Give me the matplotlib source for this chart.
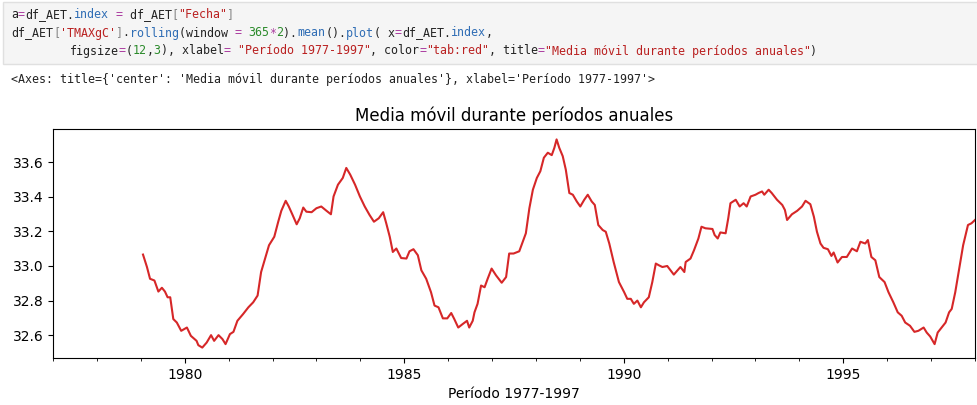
import matplotlib
matplotlib.use("Agg")
import matplotlib.pyplot as plt
from matplotlib.ticker import MultipleLocator, FuncFormatter
from matplotlib.patches import Rectangle

# ---- data ----
years = [1979.05, 1979.14, 1979.21, 1979.31, 1979.40, 1979.48, 1979.55, 1979.61, 1979.67, 1979.74,
         1979.82, 1979.92, 1980.05, 1980.14, 1980.27, 1980.31, 1980.40, 1980.50, 1980.60, 1980.67,
         1980.77, 1980.86, 1980.93, 1981.03, 1981.11, 1981.20, 1981.33, 1981.45, 1981.56, 1981.66,
         1981.74, 1981.83, 1981.92, 1982.04, 1982.13, 1982.20, 1982.30, 1982.37, 1982.45, 1982.55,
         1982.62, 1982.70, 1982.77, 1982.89, 1983.00, 1983.11, 1983.23, 1983.33, 1983.39, 1983.49,
         1983.60, 1983.68, 1983.77, 1983.88, 1983.99, 1984.10, 1984.21, 1984.31, 1984.42, 1984.52,
         1984.59, 1984.67, 1984.74, 1984.82, 1984.93, 1985.05, 1985.12, 1985.21, 1985.31, 1985.39,
         1985.50, 1985.61, 1985.69, 1985.78, 1985.88, 1985.98, 1986.07, 1986.14, 1986.23, 1986.33,
         1986.43, 1986.48, 1986.56, 1986.60, 1986.67, 1986.75, 1986.83, 1986.90, 1986.99, 1987.09,
         1987.22, 1987.32, 1987.39, 1987.49, 1987.62, 1987.70, 1987.77, 1987.85, 1987.93, 1988.02,
         1988.10, 1988.18, 1988.27, 1988.36, 1988.42, 1988.47, 1988.53, 1988.61, 1988.68, 1988.76,
         1988.84, 1988.93, 1989.01, 1989.10, 1989.18, 1989.27, 1989.34, 1989.42, 1989.52, 1989.59,
         1989.67, 1989.77, 1989.89, 1990.01, 1990.08, 1990.16, 1990.23, 1990.31, 1990.39, 1990.46,
         1990.57, 1990.65, 1990.73, 1990.80, 1990.88, 1990.99, 1991.14, 1991.29, 1991.38, 1991.41,
         1991.52, 1991.60, 1991.70, 1991.77, 1991.86, 1992.02, 1992.07, 1992.14, 1992.20, 1992.32,
         1992.38, 1992.43, 1992.55, 1992.64, 1992.73, 1992.80, 1992.89, 1993.00, 1993.07, 1993.15,
         1993.20, 1993.30, 1993.37, 1993.49, 1993.61, 1993.67, 1993.72, 1993.83, 1993.95, 1994.06,
         1994.14, 1994.25, 1994.33, 1994.40, 1994.48, 1994.55, 1994.65, 1994.73, 1994.78, 1994.87,
         1994.97, 1995.08, 1995.20, 1995.31, 1995.39, 1995.50, 1995.56, 1995.64, 1995.73, 1995.82,
         1995.94, 1996.03, 1996.14, 1996.24, 1996.33, 1996.41, 1996.52, 1996.62, 1996.71, 1996.83,
         1996.90, 1996.98, 1997.08, 1997.15, 1997.24, 1997.33, 1997.41, 1997.47, 1997.55, 1997.64,
         1997.73, 1997.84, 1997.92, 1998.00]
tmax_rolling = [33.066, 32.994, 32.926, 32.916, 32.852, 32.874, 32.852, 32.819, 32.819, 32.693,
                32.673, 32.625, 32.644, 32.596, 32.567, 32.542, 32.528, 32.557, 32.600, 32.567,
                32.600, 32.577, 32.548, 32.606, 32.619, 32.683, 32.722, 32.761, 32.790, 32.829,
                32.965, 33.043, 33.120, 33.169, 33.256, 33.319, 33.377, 33.344, 33.299, 33.241,
                33.276, 33.338, 33.314, 33.311, 33.334, 33.344, 33.319, 33.299, 33.402, 33.470,
                33.509, 33.567, 33.528, 33.470, 33.402, 33.344, 33.295, 33.256, 33.276, 33.311,
                33.247, 33.169, 33.081, 33.101, 33.046, 33.043, 33.085, 33.097, 33.062, 32.975,
                32.926, 32.848, 32.771, 32.761, 32.697, 32.697, 32.728, 32.693, 32.644, 32.664,
                32.683, 32.644, 32.683, 32.732, 32.781, 32.887, 32.877, 32.926, 32.985, 32.946,
                32.903, 32.936, 33.072, 33.072, 33.085, 33.140, 33.189, 33.334, 33.441, 33.509,
                33.548, 33.626, 33.655, 33.641, 33.684, 33.732, 33.684, 33.635, 33.557, 33.422,
                33.412, 33.373, 33.344, 33.383, 33.412, 33.373, 33.353, 33.237, 33.208, 33.198,
                33.130, 33.023, 32.907, 32.848, 32.810, 32.810, 32.781, 32.800, 32.761, 32.790,
                32.819, 32.907, 33.014, 33.004, 32.994, 33.000, 32.950, 32.994, 32.965, 33.023,
                33.043, 33.091, 33.159, 33.227, 33.218, 33.214, 33.179, 33.159, 33.194, 33.189,
                33.276, 33.363, 33.383, 33.344, 33.363, 33.344, 33.402, 33.412, 33.422, 33.431,
                33.412, 33.441, 33.422, 33.383, 33.353, 33.324, 33.266, 33.299, 33.319, 33.344,
                33.377, 33.357, 33.285, 33.198, 33.130, 33.105, 33.097, 33.058, 33.078, 33.020,
                33.052, 33.052, 33.101, 33.085, 33.140, 33.130, 33.150, 33.052, 33.033, 32.936,
                32.907, 32.848, 32.790, 32.732, 32.712, 32.673, 32.654, 32.619, 32.625, 32.644,
                32.615, 32.592, 32.548, 32.615, 32.644, 32.673, 32.732, 32.752, 32.848, 32.985,
                33.120, 33.237, 33.247, 33.266]
x_range = [1977, 1998]
major_step = 5
title = "Media móvil durante períodos anuales"
xlabel = "Período 1977-1997"

# ---- figure ----
W, H = 978, 405
fig = plt.figure(figsize=(W / 100, H / 100), dpi=100)
fig.patch.set_facecolor("white")

# code cell background
fig.patches.append(Rectangle((3 / W, 1 - 64 / H), (W - 3) / W, 62 / H, transform=fig.transFigure,
                             facecolor="#f5f5f5", edgecolor="#e0e0e0", linewidth=1, zorder=0))

K, OP, AT, ST, NU, BR = "#222222", "#aa3a9e", "#2f6db5", "#ba2121", "#2a8a2a", "#888888"
MONO = "DejaVu Sans Mono"
FS = 8.35
CW = 0.602 * FS * 100 / 72  # px per char


def code_line(tokens, x_px, y_px):
    n = 0
    for txt, col in tokens:
        fig.text((x_px + n * CW) / W, 1 - y_px / H, txt, family=MONO, size=FS, color=col,
                 va="center", ha="left")
        n += len(txt)


code_line([("a", K), ("=", OP), ("df_AET.", K), ("index", AT), (" ", K), ("=", OP), (" df_AET", K),
           ("[", BR), ('"Fecha"', ST), ("]", BR)], 11, 15)
code_line([("df_AET", K), ("[", BR), ("'TMAXgC'", ST), ("]", BR), (".", K), ("rolling", AT),
           ("(window ", K), ("=", OP), (" ", K), ("365", NU), ("*", OP), ("2", NU), (").", K),
           ("mean", AT), ("().", K), ("plot", AT), ("( x", K), ("=", OP), ("df_AET.", K),
           ("index", AT), (",", K)], 11, 33)
code_line([("figsize", K), ("=", OP), ("(", K), ("12", NU), (",", K), ("3", NU), ("), xlabel", K),
           ("=", OP), (" ", K), ('"Período 1977-1997"', ST), (", color", K), ("=", OP),
           ('"tab:red"', ST), (", title", K), ("=", OP), ('"Media móvil durante períodos anuales"', ST),
           (")", K)], 70, 51)

fig.text(11 / W, 1 - 80 / H,
         "<Axes: title={'center': 'Media móvil durante períodos anuales'}, xlabel='Período 1977-1997'>",
         family=MONO, size=FS, color="#222222", va="center", ha="left")

# ---- chart ----
ax = fig.add_axes([53 / W, (H - 358) / H, (975 - 53) / W, (358 - 129) / H])
ax.plot(years, tmax_rolling, color="tab:red", linewidth=1.5)
ax.set_xlim(x_range)
ax.xaxis.set_major_locator(MultipleLocator(major_step))
ax.xaxis.set_minor_locator(MultipleLocator(1))
ax.xaxis.set_major_formatter(FuncFormatter(lambda v, p: f"{int(round(v))}"))
ax.set_title(title, fontsize=12)
ax.set_xlabel(xlabel, fontsize=10)
ax.tick_params(labelsize=10)

fig.savefig("out.png", dpi=100)
